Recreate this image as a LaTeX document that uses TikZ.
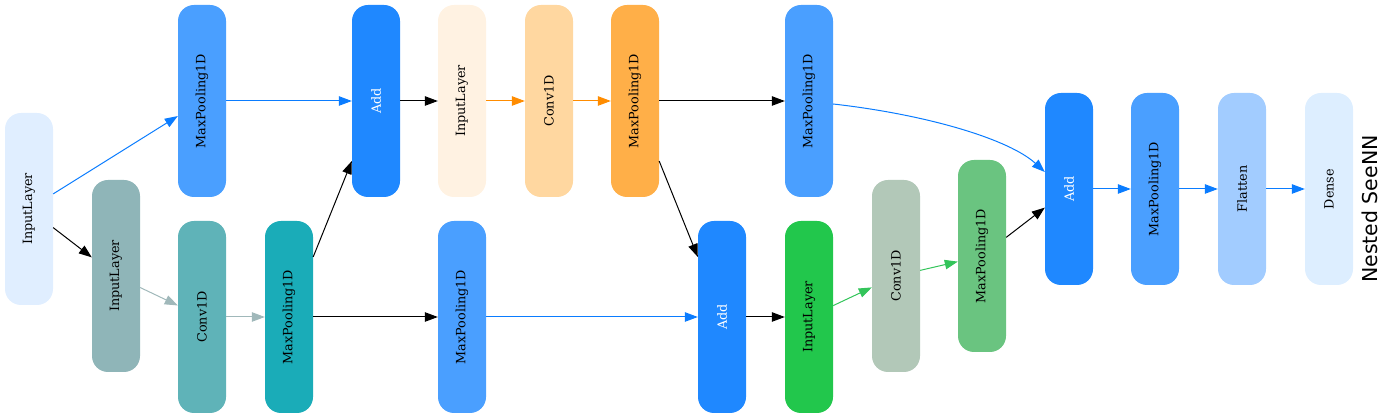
\documentclass[tikz,border=0pt]{standalone}
\usepackage{fontspec}
\setmainfont{DejaVu Serif}
\newfontfamily\titlefont{DejaVu Sans}
\usetikzlibrary{arrows.meta}
\definecolor{cInA}{HTML}{E0EEFF}
\definecolor{cInB}{HTML}{8FB5B8}
\definecolor{cMPblue}{HTML}{4A9FFF}
\definecolor{cConvA}{HTML}{5FB3B8}
\definecolor{cMPteal}{HTML}{1AACB8}
\definecolor{cAdd}{HTML}{1F88FF}
\definecolor{cInC}{HTML}{FFF2E2}
\definecolor{cConvB}{HTML}{FFD7A0}
\definecolor{cMPorange}{HTML}{FFAF48}
\definecolor{cInD}{HTML}{22C74C}
\definecolor{cConvC}{HTML}{B2C8B8}
\definecolor{cMPgreen}{HTML}{6AC480}
\definecolor{cFlat}{HTML}{A2CCFF}
\definecolor{cDense}{HTML}{DDEEFF}
\definecolor{eBlue}{HTML}{0A7CFF}
\definecolor{eGrey}{HTML}{A0B8BA}
\definecolor{eOrange}{HTML}{FF8C00}
\definecolor{eGreen}{HTML}{33C45A}
\tikzset{
  layerbox/.style={rectangle, rounded corners=16pt, minimum width=48pt, minimum height=192pt, inner sep=0pt, draw=none, font=\fontsize{12.8}{14}\selectfont},
  conn/.style={line width=1pt, -{Triangle[length=13pt,width=9.5pt]}},
}
\begin{document}
\begin{tikzpicture}[x=1pt,y=-1pt]
\useasboundingbox (0,0) rectangle (1393,419);
\node[layerbox, fill=cInA] (n1) at (29,209) {\rotatebox{90}{InputLayer}};
\node[layerbox, fill=cInB] (n2) at (116,276) {\rotatebox{90}{InputLayer}};
\node[layerbox, fill=cMPblue] (n3) at (202,101) {\rotatebox{90}{MaxPooling1D}};
\node[layerbox, fill=cConvA] (n4) at (202,317) {\rotatebox{90}{Conv1D}};
\node[layerbox, fill=cMPteal] (n5) at (289,317) {\rotatebox{90}{MaxPooling1D}};
\node[layerbox, fill=cAdd, text=white] (n6) at (376,101) {\rotatebox{90}{Add}};
\node[layerbox, fill=cInC] (n7) at (462,101) {\rotatebox{90}{InputLayer}};
\node[layerbox, fill=cConvB] (n8) at (549,101) {\rotatebox{90}{Conv1D}};
\node[layerbox, fill=cMPorange] (n9) at (635,101) {\rotatebox{90}{MaxPooling1D}};
\node[layerbox, fill=cMPblue] (n10) at (462,317) {\rotatebox{90}{MaxPooling1D}};
\node[layerbox, fill=cMPblue] (n11) at (809,101) {\rotatebox{90}{MaxPooling1D}};
\node[layerbox, fill=cAdd, text=white] (n12) at (722,317) {\rotatebox{90}{Add}};
\node[layerbox, fill=cInD] (n13) at (809,317) {\rotatebox{90}{InputLayer}};
\node[layerbox, fill=cConvC] (n14) at (896,276) {\rotatebox{90}{Conv1D}};
\node[layerbox, fill=cMPgreen] (n15) at (982,256) {\rotatebox{90}{MaxPooling1D}};
\node[layerbox, fill=cAdd, text=white] (n16) at (1069,189) {\rotatebox{90}{Add}};
\node[layerbox, fill=cMPblue] (n17) at (1155,189) {\rotatebox{90}{MaxPooling1D}};
\node[layerbox, fill=cFlat] (n18) at (1242,189) {\rotatebox{90}{Flatten}};
\node[layerbox, fill=cDense] (n19) at (1329,189) {\rotatebox{90}{Dense}};
\node[rotate=90, anchor=base, inner sep=0pt, font=\titlefont\fontsize{20.5}{24}\selectfont] (title) at (1377,209) {Nested SeeNN};

\draw[conn, eBlue] (n1) -- (n3);
\draw[conn, black] (n1) -- (n2);
\draw[conn, eGrey] (n2) -- (n4);
\draw[conn, eGrey] (n4) -- (n5);
\draw[conn, black] (n5) -- (n6);
\draw[conn, eBlue] (n3) -- (n6);
\draw[conn, black] (n5) -- (n10);
\draw[conn, black] (n6) -- (n7);
\draw[conn, eOrange] (n7) -- (n8);
\draw[conn, eOrange] (n8) -- (n9);
\draw[conn, black] (n9) -- (n11);
\draw[conn, black] (n9) -- (n12);
\draw[conn, eBlue] (n10) -- (n12);
\draw[conn, black] (n12) -- (n13);
\draw[conn, eGreen] (n13) -- (n14);
\draw[conn, eGreen] (n14) -- (n15);
\draw[conn, black] (n15) -- (n16);
\draw[conn, eBlue] (n11.east) ++(0,3) coordinate (c11) (c11) .. controls (930,115) and (1010,140) .. (n16.west |- 0,172);
\draw[conn, eBlue] (n16) -- (n17);
\draw[conn, eBlue] (n17) -- (n18);
\draw[conn, eBlue] (n18) -- (n19);
\end{tikzpicture}
\end{document}
